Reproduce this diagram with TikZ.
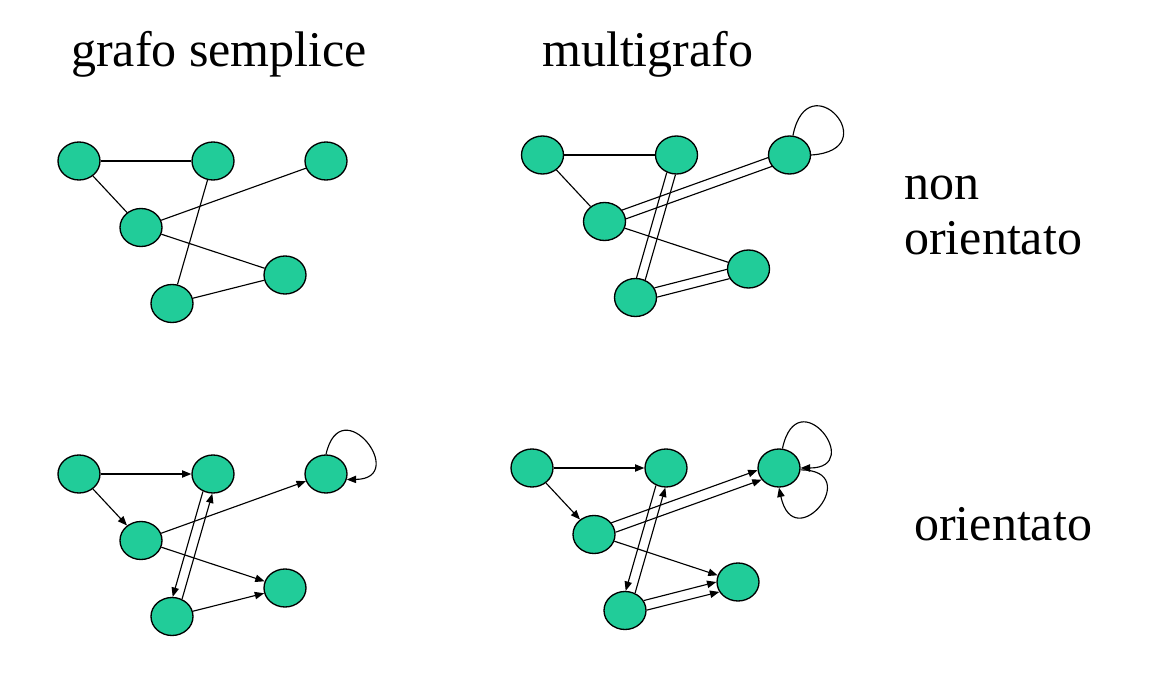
\documentclass[tikz,border=0pt]{standalone}
\usepackage{fontspec}
\setmainfont{Liberation Serif}
\usetikzlibrary{shapes.geometric,arrows.meta}

\definecolor{nodegreen}{RGB}{33,204,153}

\tikzset{
  vertex/.style={ellipse,draw,fill=nodegreen,line width=1pt,minimum width=31.5pt,minimum height=28.5pt,inner sep=0pt},
  edgeline/.style={line width=0.85pt},
  edgearrow/.style={line width=0.85pt,-{Triangle[length=7pt,width=5.5pt]}},
  title/.style={anchor=base west,inner sep=0pt,font=\fontsize{37.5}{45}\selectfont}
}

% the same six vertices in every graph
\newcommand\vertexset[1]{%
  \node[vertex] (a#1) at (79,-161) {};
  \node[vertex] (b#1) at (213,-161) {};
  \node[vertex] (c#1) at (326,-161) {};
  \node[vertex] (d#1) at (141,-227.5) {};
  \node[vertex] (e#1) at (285,-275) {};
  \node[vertex] (f#1) at (172,-303.5) {};
}

\begin{document}
\begin{tikzpicture}[x=0.75pt,y=0.75pt]
\useasboundingbox (0,0) rectangle (1152,-684);

\node[title] (simple) at (71,-66.7) {grafo semplice};
\node[title] (multi) at (542,-66.7) {multigrafo};
\node[title] (non) at (904,-200) {non};
\node[title] (orient1) at (904,-255) {orientato};
\node[title] (orient2) at (914,-540) {orientato};

% grafo semplice, non orientato
\vertexset{1}
\draw[edgeline] (a1) -- (b1);
\draw[edgeline] (a1) -- (d1);
\draw[edgeline] (b1) -- (f1);
\draw[edgeline] (d1) -- (c1);
\draw[edgeline] (d1) -- (e1);
\draw[edgeline] (f1) -- (e1);

% multigrafo, non orientato
\begin{scope}[shift={(463.5,6)}]
\vertexset{2}
\end{scope}
\draw[edgeline] (a2) -- (b2);
\draw[edgeline] (a2) -- (d2);
\draw[edgeline] (d2.33) -- (c2.187);
\draw[edgeline] (d2.7) -- (c2.213);
\draw[edgeline] (b2.267) -- (f2.61);
\draw[edgeline] (b2.241) -- (f2.87);
\draw[edgeline] (d2) -- (e2);
\draw[edgeline] (f2.27) -- (e2.181);
\draw[edgeline] (f2.1) -- (e2.207);
\draw[edgeline] (c2.80) .. controls +(15,75) and +(76,5) .. (c2.0);

% grafo semplice, orientato
\begin{scope}[shift={(0,-313)}]
\vertexset{3}
\end{scope}
\draw[edgearrow] (a3) -- (b3);
\draw[edgearrow] (a3) -- (d3);
\draw[edgearrow] (b3.240) -- (f3.88);
\draw[edgearrow] (f3.60) -- (b3.268);
\draw[edgearrow] (d3) -- (c3);
\draw[edgearrow] (d3) -- (e3);
\draw[edgearrow] (f3) -- (e3);
\draw[edgearrow] (c3.90) .. controls +(15,66) and +(63,1) .. (c3.-15);

% multigrafo, orientato
\begin{scope}[shift={(453,-307)}]
\vertexset{4}
\end{scope}
\draw[edgearrow] (a4) -- (b4);
\draw[edgearrow] (a4) -- (d4);
\draw[edgearrow] (b4.240) -- (f4.88);
\draw[edgearrow] (f4.60) -- (b4.268);
\draw[edgearrow] (d4.34) -- (c4.186);
\draw[edgearrow] (d4.6) -- (c4.214);
\draw[edgearrow] (d4) -- (e4);
\draw[edgearrow] (f4.28) -- (e4.180);
\draw[edgearrow] (f4.1) -- (e4.208);
\draw[edgearrow] (c4.80) .. controls +(15,70) and +(65,0) .. (c4.0);
\draw[edgearrow] (c4.-5) .. controls +(65,0) and +(15,-70) .. (c4.-90);

\end{tikzpicture}
\end{document}
